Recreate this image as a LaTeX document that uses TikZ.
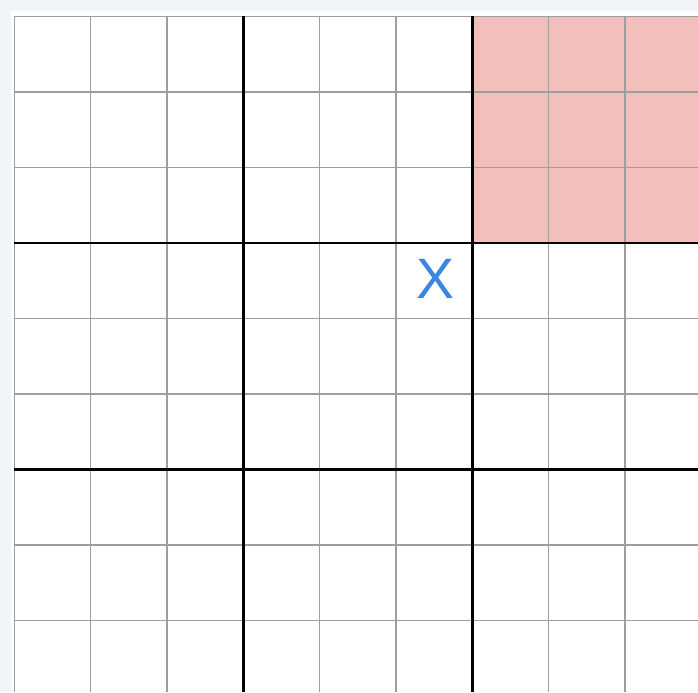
\documentclass[tikz,border=0pt]{standalone}
\usepackage{fontspec}
\setsansfont{Liberation Sans}
\usetikzlibrary{positioning}
\definecolor{pagegray}{RGB}{242,245,248}
\definecolor{boxpink}{RGB}{243,191,189}
\definecolor{thingray}{RGB}{158,158,158}
\definecolor{markblue}{RGB}{58,134,224}
\newcommand{\cellfill}[2]{\fill[#1] #2 rectangle ++(1,1);}
\newcommand{\boxline}[2]{\draw[black,line width=2.6pt] #1 -- #2;}

\begin{document}
\begin{tikzpicture}[x=76.3pt,y=-75.5pt]
\useasboundingbox (-0.190,-0.2185) rectangle (8.958,8.947);
\fill[pagegray] (-0.190,-0.2185) rectangle (8.958,8.947);
\fill[white] (-0.045,-0.07) rectangle (8.958,8.947);
\cellfill{boxpink}{(6,0)} \cellfill{boxpink}{(7,0)} \cellfill{boxpink}{(8,0)}
\cellfill{boxpink}{(6,1)} \cellfill{boxpink}{(7,1)} \cellfill{boxpink}{(8,1)}
\cellfill{boxpink}{(6,2)} \cellfill{boxpink}{(7,2)} \cellfill{boxpink}{(8,2)}
\foreach \k in {0,...,8} {
  \draw[thingray,line width=1.3pt] (\k,0) -- (\k,8.947);
  \draw[thingray,line width=1.3pt] (0,\k) -- (8.958,\k);
}
\boxline{(3,0)}{(3,8.947)} \boxline{(6,0)}{(6,8.947)}
\boxline{(0,3)}{(8.958,3)} \boxline{(0,6)}{(8.958,6)}
\node[font=\sffamily\fontsize{57}{57}\selectfont,text=markblue] (xcell) at (5.52,3.48) {X};
\end{tikzpicture}
\end{document}
